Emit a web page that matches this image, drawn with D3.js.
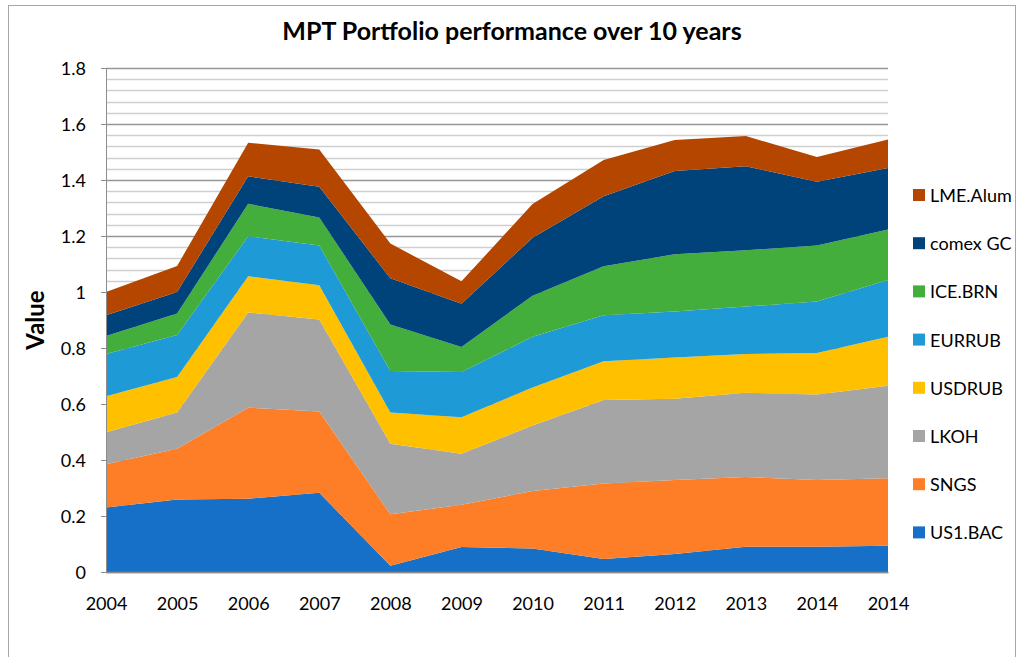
<!DOCTYPE html>
<html>
<head>
<meta charset="utf-8">
<script src="https://cdn.jsdelivr.net/npm/d3@7"></script>
<style>
  body { margin: 0; background: #fff; }
  svg { font-family: Lato, "Open Sans", sans-serif; }
</style>
</head>
<body>
<div class="chart"></div>
<script>
const width = 1019;
const height = 657;

// data
const years = ['2004', '2005', '2006', '2007', '2008', '2009', '2010', '2011', '2012', '2013', '2014', '2014'];
const seriesNames = ['US1.BAC', 'SNGS', 'LKOH', 'USDRUB', 'EURRUB', 'ICE.BRN', 'comex GC', 'LME.Alum'];
const bac = [0.230, 0.259, 0.262, 0.283, 0.022, 0.089, 0.084, 0.046, 0.064, 0.090, 0.090, 0.094];
const sngs = [0.155, 0.181, 0.325, 0.290, 0.184, 0.151, 0.205, 0.270, 0.265, 0.249, 0.239, 0.241];
const lkoh = [0.114, 0.130, 0.340, 0.329, 0.252, 0.182, 0.234, 0.298, 0.290, 0.301, 0.305, 0.330];
const usdrub = [0.129, 0.126, 0.129, 0.122, 0.112, 0.131, 0.136, 0.139, 0.147, 0.139, 0.148, 0.175];
const eurrub = [0.151, 0.150, 0.143, 0.142, 0.148, 0.161, 0.181, 0.164, 0.164, 0.169, 0.184, 0.203];
const iceBrn = [0.064, 0.077, 0.116, 0.100, 0.166, 0.090, 0.147, 0.175, 0.205, 0.201, 0.200, 0.180];
const comexGc = [0.074, 0.077, 0.098, 0.110, 0.165, 0.154, 0.207, 0.250, 0.297, 0.300, 0.228, 0.220];
const lmeAlum = [0.083, 0.093, 0.120, 0.133, 0.124, 0.080, 0.120, 0.129, 0.111, 0.108, 0.088, 0.102];
const yTicks = [0, 0.2, 0.4, 0.6, 0.8, 1, 1.2, 1.4, 1.6, 1.8];
const colors = ['#1670C7', '#FD7E27', '#A5A5A5', '#FFC000', '#1E9BD7', '#44AE3C', '#00427A', '#B44600'];

const values = [bac, sngs, lkoh, usdrub, eurrub, iceBrn, comexGc, lmeAlum];
const rows = years.map((y, i) => {
  const r = { i };
  seriesNames.forEach((s, k) => (r[s] = values[k][i]));
  return r;
});

const margin = { left: 106, right: 1019 - 888, top: 68, bottom: 657 - 572 };

const svg = d3
  .select('.chart')
  .append('svg')
  .attr('width', width)
  .attr('height', height);

// chart frame
svg.append('rect')
  .attr('x', 8.5).attr('y', 5.5)
  .attr('width', 1007).attr('height', 670)
  .attr('fill', '#fff').attr('stroke', '#a6a6a6');

const x = d3.scaleLinear().domain([0, years.length - 1]).range([margin.left, width - margin.right]);
const y = d3.scaleLinear().domain([0, 1.8]).range([height - margin.bottom, margin.top]);

// gridlines: minor every 0.04, major every 0.2
const minor = d3.range(0, 1.8001, 0.04);
svg.append('g')
  .selectAll('line')
  .data(minor)
  .enter()
  .append('line')
  .attr('x1', margin.left).attr('x2', width - margin.right)
  .attr('y1', d => Math.round(y(d)) + 0.5).attr('y2', d => Math.round(y(d)) + 0.5)
  .attr('stroke', d => (Math.abs(d / 0.2 - Math.round(d / 0.2)) < 1e-6 ? '#969696' : '#cfcfcf'))
  .attr('stroke-width', 1.5);

const stack = d3.stack().keys(seriesNames);
const layers = stack(rows);

const area = d3.area()
  .x(d => x(d.data.i))
  .y0(d => y(d[0]))
  .y1(d => y(d[1]));

svg.append('g')
  .selectAll('path')
  .data(layers)
  .enter()
  .append('path')
  .attr('d', area)
  .attr('fill', (d, i) => colors[i]);

// axes
const yAxis = d3.axisLeft(y).tickValues(yTicks).tickSize(5).tickFormat(d3.format('~g'));
const gy = svg.append('g').attr('transform', `translate(${margin.left},0)`).call(yAxis);
gy.select('.domain').attr('stroke', '#8c8c8c');
gy.selectAll('.tick line').attr('stroke', '#8c8c8c');
gy.selectAll('text').attr('font-size', 18).attr('fill', '#000').attr('x', -20).attr('dy', '0.36em');

const xAxis = d3.axisBottom(x).tickValues(d3.range(years.length)).tickSize(0).tickFormat(i => years[i]);
const gx = svg.append('g').attr('transform', `translate(0,${height - margin.bottom})`).call(xAxis);
gx.select('.domain').attr('stroke', '#8c8c8c').attr('stroke-width', 1.5);
gx.selectAll('text').attr('font-size', 18).attr('fill', '#000').attr('y', 38).attr('dy', 0);
svg.selectAll('.tick text').attr('font-family', 'Lato, sans-serif');

// title
svg.append('text')
  .attr('x', 512).attr('y', 40)
  .attr('text-anchor', 'middle')
  .attr('font-size', 25).attr('font-weight', 'bold')
  .text('MPT Portfolio performance over 10 years');

svg.append('text')
  .attr('transform', 'translate(44,320) rotate(-90)')
  .attr('text-anchor', 'middle')
  .attr('font-size', 24).attr('font-weight', 'bold')
  .text('Value');

// legend, top entry is the last series
const legend = svg.append('g')
  .selectAll('g')
  .data(seriesNames.slice().reverse())
  .enter()
  .append('g')
  .attr('transform', (d, i) => `translate(913,${195 + i * 48.2})`);

legend.append('rect')
  .attr('x', 0).attr('y', -6)
  .attr('width', 12).attr('height', 12)
  .attr('fill', d => colors[seriesNames.indexOf(d)]);

legend.append('text')
  .attr('x', 17).attr('y', 7)
  .attr('font-size', 18)
  .text(d => d);
</script>
</body>
</html>
